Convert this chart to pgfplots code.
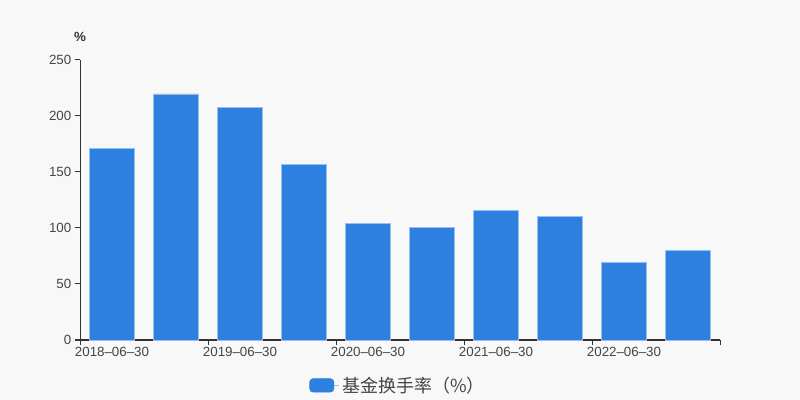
\documentclass[border=0pt]{standalone}
\usepackage{pgfplots}
\pgfplotsset{compat=1.18}
\usepackage{fontspec}
\setmainfont{Liberation Sans}
\newfontfamily\cjk{Noto Sans CJK SC}
\definecolor{bg}{RGB}{248,248,248}
\definecolor{barblue}{RGB}{46,128,224}
\definecolor{baredge}{RGB}{150,190,240}
\definecolor{axisgray}{RGB}{51,51,51}
\definecolor{labelgray}{RGB}{68,68,68}
\begin{document}
\begin{tikzpicture}
% canvas: 800x400 px at 0.75pt per px
\fill[bg] (0,0) rectangle (600pt,300pt);
\begin{axis}[
    at={(60pt,45pt)}, anchor=origin,
    scale only axis, width=480pt, height=210pt,
    xmin=0, xmax=10, ymin=0, ymax=250,
    clip=false,
    axis x line=bottom, axis y line=left,
    axis line style={draw=axisgray, line width=0.75pt, -},
    tick align=outside,
    major tick length=4pt,
    tick style={draw=axisgray, line width=0.75pt},
    xtick={0,2,4,6,8,10}, xticklabels={},
    extra x ticks={0.5,2.5,4.5,6.5,8.5},
    extra x tick labels={2018–06–30,2019–06–30,2020–06–30,2021–06–30,2022–06–30},
    extra x tick style={major tick length=0pt},
    ytick={0,50,100,150,200,250},
    /pgf/number format/assume math mode=true,
    tick label style={font=\fontsize{10}{12}\selectfont, text=labelgray},
    yticklabel style={xshift=1pt},
    xticklabel style={yshift=-2pt},
    legend style={at={(0.4975,-0.162)}, anchor=center, draw=none, fill=none,
        font=\cjk\fontsize{13.5}{15}\selectfont, text=labelgray},
    legend image code/.code={\path (0pt,0pt) -- (22pt,0pt);
        \fill[barblue, rounded corners=2.5pt] (0pt,-5pt) rectangle (18pt,5pt);},
]
\addplot[ybar, bar width=0.7, fill=barblue, draw=baredge, line width=0.5pt]
    coordinates {(0.5,171.3) (1.5,219.7) (2.5,207.8) (3.5,156.6) (4.5,104.4)
                 (5.5,100.2) (6.5,115.6) (7.5,110.3) (8.5,69.0) (9.5,79.7)};
\addlegendentry{基金换手率（\%）}
\node[font=\bfseries\fontsize{10}{12}\selectfont, text=axisgray] at (axis description cs:0,1) [yshift=17pt] {\%};
\end{axis}
\end{tikzpicture}
\end{document}
